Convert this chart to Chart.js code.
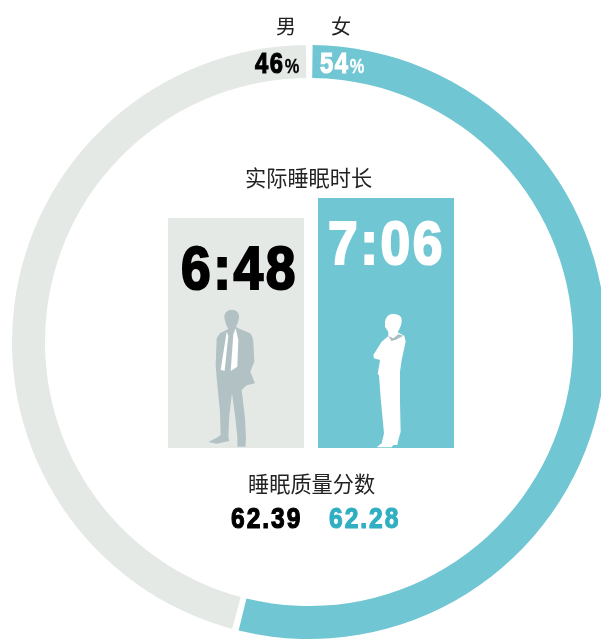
<!DOCTYPE html>
<html lang="zh">
<head>
<meta charset="UTF-8"/>
<title>实际睡眠时长</title>
<script src="https://cdn.jsdelivr.net/npm/chart.js"></script>
<style>
html, body { margin: 0; padding: 0; background: #fff; }
#page { position: relative; width: 601px; height: 639px; overflow: hidden; }
canvas { position: absolute; }
#ringChart { left: 0; top: 0; }
#sleepChart { left: 161px; top: 198px; }
.txt { position: absolute; white-space: nowrap; line-height: 1; transform-origin: 0 0; }
.cn { font-family: "Noto Sans CJK SC", sans-serif; font-size: 21.2px; color: #222; }
.num { font-family: "Liberation Sans", sans-serif; font-weight: bold; -webkit-text-stroke: 1.2px currentColor; transform: scaleX(0.82); }
.big { font-size: 62px; -webkit-text-stroke-width: 2.2px; letter-spacing: 3px; transform: scaleX(0.86); }
.mid { font-size: 30px; letter-spacing: 2.4px; }
.pct { font-size: 29px; letter-spacing: 2px; }
.pct small { font-size: 20px; letter-spacing: 0; -webkit-text-stroke-width: 0.3px; }
#figures { position: absolute; left: 0; top: 0; }
</style>
</head>
<body>
<div id="page">
	<canvas id="ringChart" width="625" height="645"></canvas>
	<canvas id="sleepChart" width="300" height="250"></canvas>
	<svg id="figures" width="601" height="639">
		<!-- man -->
		<g transform="translate(200 305) scale(0.3333)">
			<path fill="#b1c1c4" d="M95 14 C110 14 118 24 117 36 C116 48 112 58 108 66 L115 70 L150 85 C157 92 160 102 160 112 L163 170 L151 200 L165 235 L140 241 L125 255 L135 340 L138 400 L136 425 L112 425 L112 395 L105 330 L96 265 L88 330 L85 395 L88 408 L50 416 L25 411 L50 398 L62 390 L60 320 L50 220 L47 180 L50 100 L60 85 L85 72 C78 60 74 46 73 36 C73 24 82 14 95 14 Z"/>
			<path fill="#fff" d="M80 80 L62 195 L74 197 L85 92 Z M107 70 L115 105 L112 185 L92 198 L100 88 Z"/>
		</g>
		<!-- woman -->
		<g transform="translate(360 305) scale(0.3333)">
			<path fill="#fff" d="M75 50 C78 36 86 27 98 27 C112 27 125 32 125 44 C126 55 122 66 113 82 L133 92 L137 110 L125 165 L120 200 L120 290 L122 380 L115 405 L112 420 L100 420 L95 427 L50 427 L65 415 L72 385 L62 280 L57 210 L53 208 L60 165 L42 160 L40 150 L65 110 L85 93 L85 80 L75 65 Z"/>
			<path fill="#a9bfc3" d="M85 93 L100 100 L115 88 L130 92 L108 104 L94 108 Z"/>
		</g>
	</svg>
	<div class="txt cn" style="left:276px;top:16px;font-size:20px">男</div>
	<div class="txt cn" style="left:331px;top:16px;font-size:20px">女</div>
	<div class="txt num pct" style="left:255px;top:49px;color:#000">46<small>%</small></div>
	<div class="txt num pct" style="left:320px;top:49px;color:#fff">54<small>%</small></div>
	<div class="txt cn" style="left:245px;top:166px">实际睡眠时长</div>
	<div class="txt num big" style="left:181px;top:237px;color:#000">6:48</div>
	<div class="txt num big" style="left:328px;top:212px;color:#fff">7:06</div>
	<div class="txt cn" style="left:248px;top:472px">睡眠质量分数</div>
	<div class="txt num mid" style="left:231px;top:503px;color:#000">62.39</div>
	<div class="txt num mid" style="left:329px;top:503px;color:#31afc2">62.28</div>
</div>
<script>
// gender split
const genderLabels = ["女", "男"];
const genderShare = [54, 46];
// average sleep, minutes
const sleepLabels = ["男", "女"];
const sleepMinutes = [408, 426];

const grey = "#e5e9e6";
const teal = "#70c6d2";

new Chart(document.getElementById("ringChart"), {
	type: "doughnut",
	data: {
		labels: genderLabels,
		datasets: [{
			data: genderShare,
			backgroundColor: [teal, grey],
			borderWidth: 0,
			spacing: 4
		}]
	},
	options: {
		responsive: false,
		animation: false,
		cutout: 262,
		layout: { padding: { left: 12, right: 19, top: 45, bottom: 6 } },
		plugins: { legend: { display: false }, tooltip: { enabled: false } }
	}
});

new Chart(document.getElementById("sleepChart"), {
	type: "bar",
	data: {
		labels: sleepLabels,
		datasets: [{
			data: sleepMinutes,
			backgroundColor: [grey, teal],
			barPercentage: 136 / 150,
			categoryPercentage: 1
		}]
	},
	options: {
		responsive: false,
		animation: false,
		scales: {
			x: { display: false },
			y: { display: false, min: 201, max: 426 }
		},
		plugins: { legend: { display: false }, tooltip: { enabled: false } }
	}
});
</script>
</body>
</html>
